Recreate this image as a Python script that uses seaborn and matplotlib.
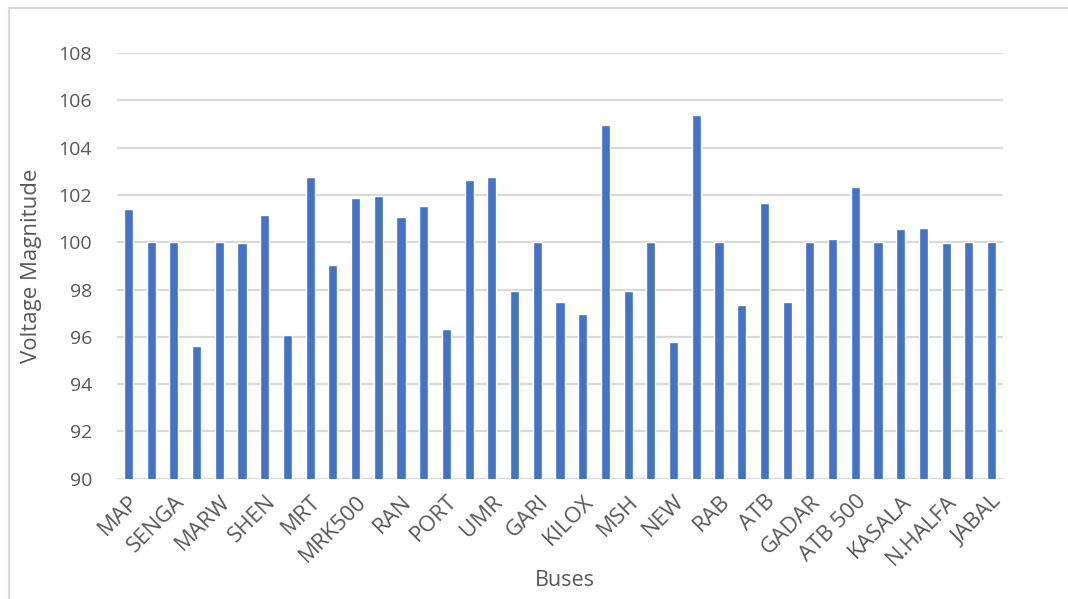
import matplotlib
matplotlib.use("Agg")
import matplotlib.pyplot as plt
from matplotlib.lines import Line2D
import seaborn as sns
import pandas as pd

# Bus voltage magnitudes (%), in bus order 1..39
bus_no = list(range(1, 40))
voltage = [101.42, 100.00, 100.00, 95.60, 100.00, 99.96, 101.14, 96.08, 102.75, 99.04,
           101.87, 101.94, 101.06, 101.52, 96.31, 102.65, 102.76, 97.93, 100.00, 97.46,
           96.97, 104.95, 97.94, 100.00, 95.80, 105.37, 100.00, 97.36, 101.66, 97.48,
           100.00, 100.13, 102.34, 100.00, 100.56, 100.59, 99.96, 100.03, 100.00]

# Names shown on the axis (every other bus)
tick_names = ["MAP", "SENGA", "MARW", "SHEN", "MRT", "MRK500", "RAN", "PORT", "UMR", "GARI",
              "KILOX", "MSH", "NEW", "RAB", "ATB", "GADAR", "ATB 500", "KASALA", "N.HALFA", "JABAL"]

df = pd.DataFrame({"bus": bus_no, "voltage": voltage})

sns.set_theme(style="white")
plt.rcParams["font.family"] = ["Open Sans", "DejaVu Sans"]

text_color = "#595959"
grid_color = "#D9D9D9"

fig = plt.figure(figsize=(10.68, 5.99), dpi=100)
ax = fig.add_axes([0.1096, 0.2008, 0.8295, 0.7107])

sns.barplot(data=df, x="bus", y="voltage", order=bus_no, color="#4472C4",
            width=0.4, saturation=1, ax=ax, zorder=3)

ax.set_ylim(90, 108)
ax.set_yticks(range(90, 109, 2))
ax.yaxis.grid(True, color=grid_color, linewidth=1.6, zorder=0)
ax.set_axisbelow(True)
for side in ["top", "right", "left", "bottom"]:
    ax.spines[side].set_visible(False)
ax.axhline(90, color=grid_color, linewidth=1.6, zorder=1)

ax.set_xlim(-0.5, len(bus_no) - 0.5)
ax.set_xticks(range(0, len(bus_no), 2))
ax.set_xticklabels(tick_names, rotation=45, ha="right", rotation_mode="anchor",
                   fontsize=16, color=text_color)
ax.tick_params(axis="x", length=0, pad=9)
ax.tick_params(axis="y", length=0, pad=18, labelsize=14, labelcolor=text_color)

ax.set_xlabel("Buses", fontsize=15.5, color=text_color)
ax.xaxis.set_label_coords(0.505, -0.215)
ax.set_ylabel("Voltage Magnitude", fontsize=16, color=text_color)
ax.yaxis.set_label_coords(-0.085, 0.5)

# chart area frame (left and top edges)
fig.lines.append(Line2D([8.5 / 1068, 8.5 / 1068], [0, 1 - 8 / 599],
                        transform=fig.transFigure, color="#D9D9D9", linewidth=1.5))
fig.lines.append(Line2D([8.5 / 1068, 1], [1 - 8 / 599, 1 - 8 / 599],
                        transform=fig.transFigure, color="#D9D9D9", linewidth=1.5))

fig.savefig("out.png", dpi=100, facecolor="white")
